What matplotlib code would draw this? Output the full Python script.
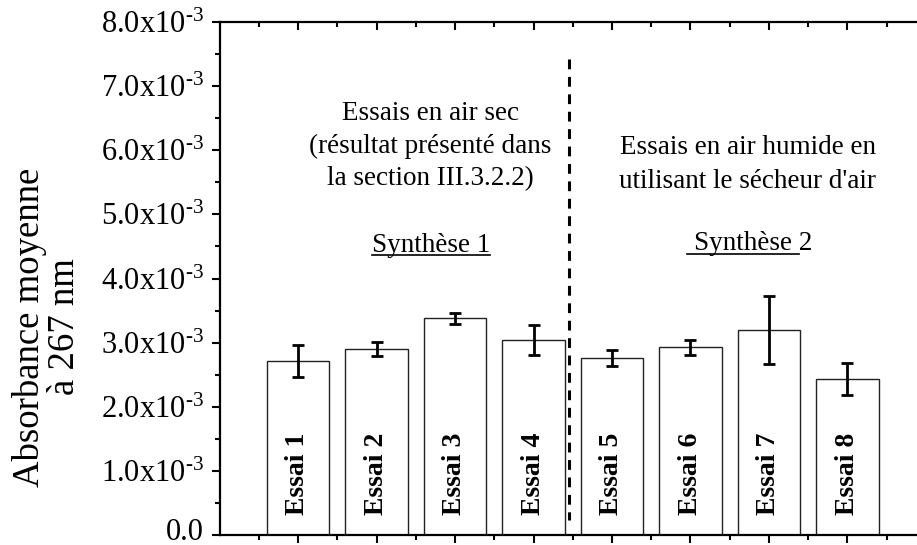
import matplotlib
matplotlib.use("Agg")
import matplotlib.pyplot as plt
from matplotlib.ticker import FixedLocator, MultipleLocator
from matplotlib.lines import Line2D

plt.rcParams['font.family'] = ['Liberation Serif', 'DejaVu Serif']
plt.rcParams['mathtext.default'] = 'regular'

# Mean absorbance at 267 nm for each trial, with its standard deviation
essais = ["Essai 1", "Essai 2", "Essai 3", "Essai 4",
          "Essai 5", "Essai 6", "Essai 7", "Essai 8"]
absorbance = [2.72e-3, 2.90e-3, 3.38e-3, 3.04e-3,
              2.76e-3, 2.93e-3, 3.20e-3, 2.43e-3]
ecart_type = [0.25e-3, 0.105e-3, 0.085e-3, 0.23e-3,
              0.127e-3, 0.118e-3, 0.53e-3, 0.245e-3]
y_ticks = [0, 1e-3, 2e-3, 3e-3, 4e-3, 5e-3, 6e-3, 7e-3, 8e-3]
y_tick_labels = ["0.0"] + [f"{v*1e3:.1f}x10$^{{\u20103}}$" for v in y_ticks[1:]]

W, H = 917, 545
fig = plt.figure(figsize=(W / 100, H / 100), dpi=100)
x0, x9 = 219.5, 926.0
ax = fig.add_axes([x0 / W, 10 / H, (x9 - x0) / W, (535 - 22) / H])


def y_of(py):
    """Data value at a given pixel row of the figure."""
    return (535 - py) / 64.125 * 1e-3


pos = list(range(1, len(essais) + 1))
ax.bar(pos, absorbance, width=0.8, color="white", edgecolor="#222222",
       linewidth=1.0, zorder=2)
ax.errorbar(pos, absorbance, yerr=ecart_type, fmt="none", ecolor="black",
            elinewidth=2.0, capsize=4.5, capthick=2.0, zorder=3)

for p, lab in zip(pos, essais):
    ax.text(p, 0.31e-3, lab, rotation=90, ha="center", va="bottom",
            fontsize=20, fontweight="bold", zorder=4)

# separator between the two syntheses (drawn top-down so a dash starts at the top)
ax.plot([4.45, 4.45], [y_of(59), y_of(520)], color="black", lw=2.2,
        dashes=(3.2, 2.5), zorder=1)

ax.set_xlim(0, 9)
ax.set_ylim(0, 8e-3)

ax.spines["right"].set_visible(False)
for side in ("left", "bottom", "top"):
    ax.spines[side].set_linewidth(1.6)

TICK_LEN, TICK_PAD, TICK_FS = 6, 5, 22
ax.yaxis.set_major_locator(FixedLocator(y_ticks))
ax.yaxis.set_minor_locator(MultipleLocator(0.5e-3))
# the zero label sits right on the figure edge, so it is drawn separately a bit higher
ax.set_yticklabels([""] + y_tick_labels[1:], fontsize=TICK_FS)
ax.annotate(y_tick_labels[0], xy=(0, 0), xycoords="axes fraction",
            xytext=(-(TICK_LEN + TICK_PAD), 1.5), textcoords="offset points",
            ha="right", va="center", fontsize=TICK_FS, annotation_clip=False)
ax.xaxis.set_major_locator(FixedLocator(pos))
ax.xaxis.set_minor_locator(FixedLocator([p - 0.5 for p in pos] + [8.5]))
ax.tick_params(axis="y", which="major", direction="out", length=TICK_LEN,
               width=1.5, pad=TICK_PAD)
ax.tick_params(axis="y", which="minor", direction="out", length=3.5, width=1.5)
ax.tick_params(axis="x", which="major", direction="out", length=TICK_LEN,
               width=1.5, top=True, labelbottom=False)
ax.tick_params(axis="x", which="minor", direction="out", length=3.5, width=1.5,
               top=True)
# top ticks point inward
for t in ax.xaxis.get_major_ticks() + ax.xaxis.get_minor_ticks():
    t.tick2line.set_marker(3)  # TICKDOWN

fig.text(47 / W, 1 - 327 / H, "Absorbance moyenne\nà 267 nm", rotation=90,
         ha="center", va="center", multialignment="center", fontsize=26.5,
         linespacing=1.0)

txt_kw = dict(ha="center", va="center", fontsize=19.5)
ax.text(2.69, y_of(113), "Essais en air sec", **txt_kw)
ax.text(2.69, y_of(146), "(résultat présenté dans", **txt_kw)
ax.text(2.69, y_of(179), "la section III.3.2.2)", **txt_kw)
ax.text(6.73, y_of(148), "Essais en air humide en", **txt_kw)
ax.text(6.73, y_of(181), "utilisant le sécheur d'air", **txt_kw)
s1 = ax.text(2.69, y_of(246), "Synthèse 1", **txt_kw)
s2 = ax.text(6.80, y_of(244), "Synthèse 2", **txt_kw)

fig.canvas.draw()
r = fig.canvas.get_renderer()


def width_of(s):
    t = fig.text(0, 0, s, fontsize=19.5)
    w = t.get_window_extent(r).width
    t.remove()
    return w


b1 = s1.get_window_extent(r)
b2 = s2.get_window_extent(r)
space_w = width_of("a a") - width_of("aa")
two_w = width_of("2")
uy1 = b1.y0 + 3
uy2 = b2.y0 + 3
fig.add_artist(Line2D([b1.x0 / W, b1.x1 / W], [uy1 / H, uy1 / H],
                      color="black", lw=1.2))
fig.add_artist(Line2D([(b2.x0 - space_w) / W, (b2.x1 - two_w) / W],
                      [uy2 / H, uy2 / H], color="black", lw=1.2))

fig.savefig("out.png", dpi=100)
